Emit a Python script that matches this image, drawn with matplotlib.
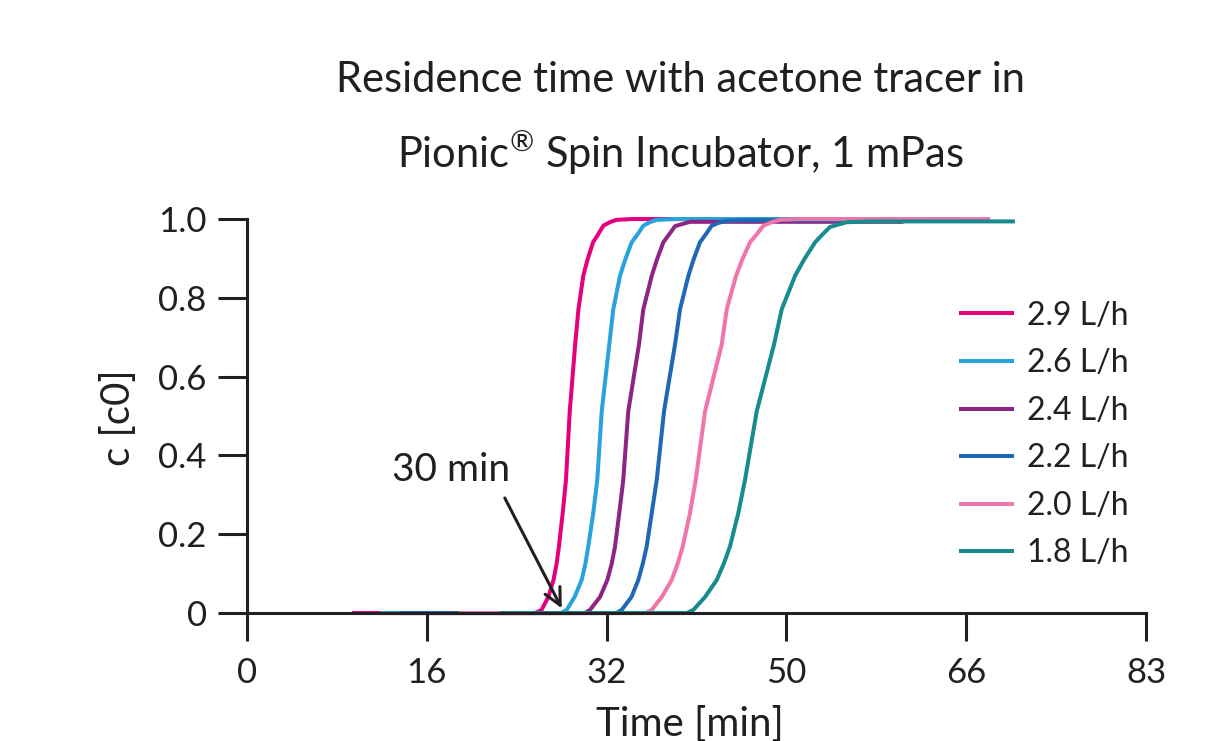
import matplotlib.pyplot as plt
import numpy as np

plt.rcParams['font.family'] = ['Lato', 'DejaVu Sans']
plt.rcParams['mathtext.default'] = 'regular'

#-------Dados-------#

flow_labels = ['2.9 L/h', '2.6 L/h', '2.4 L/h', '2.2 L/h', '2.0 L/h', '1.8 L/h']
colors = ['#E6007E', '#29A3DC', '#8E2585', '#1F69B4', '#F075AA', '#178B8E']

t_29 = [9.7, 26.6, 27.2, 27.82, 28.3, 28.59, 28.8, 29.15, 29.45, 29.8, 30.3, 30.6, 31.05, 31.45,
        31.95, 32.44, 32.9, 33.5, 34.1, 35.6, 66.1]
c_29 = [0, 0, 0.008, 0.041, 0.084, 0.126, 0.169, 0.254, 0.338, 0.512, 0.682, 0.771, 0.856, 0.898,
        0.941, 0.962, 0.983, 0.992, 0.998, 1.0, 1.0]

t_26 = [12.3, 29.0, 29.52, 30.25, 30.9, 31.25, 31.51, 31.97, 32.34, 32.75, 33.45, 33.82, 34.44, 34.93,
        35.52, 36.08, 36.59, 37.2, 37.83, 39.5, 63.0]
c_26 = [0, 0, 0.008, 0.041, 0.084, 0.126, 0.169, 0.254, 0.338, 0.512, 0.682, 0.771, 0.856, 0.898,
        0.941, 0.962, 0.983, 0.992, 0.998, 1.0, 1.0]

t_24 = [14.1, 31.2, 31.67, 32.6, 33.27, 33.68, 33.98, 34.37, 34.74, 35.2, 36.19, 36.59, 37.37, 37.86,
        38.44, 39.0, 39.52, 40.9, 60.6]
c_24 = [0, 0, 0.008, 0.041, 0.084, 0.126, 0.169, 0.254, 0.338, 0.512, 0.682, 0.771, 0.856, 0.898,
        0.941, 0.962, 0.982, 0.993, 0.993]

t_22 = [14.1, 34.1, 34.6, 35.5, 36.13, 36.55, 36.9, 37.37, 37.83, 38.5, 39.52, 39.98, 40.75, 41.24,
        41.82, 42.38, 42.9, 43.5, 44.13, 45.8, 63.0]
c_22 = [0, 0, 0.008, 0.041, 0.084, 0.126, 0.169, 0.254, 0.338, 0.512, 0.682, 0.771, 0.856, 0.898,
        0.941, 0.962, 0.983, 0.99, 0.995, 0.997, 0.997]

t_20 = [19.6, 36.8, 37.37, 38.3, 39.21, 39.77, 40.23, 40.9, 41.43, 42.29, 43.83, 44.29, 45.15, 45.74,
        46.44, 47.08, 47.67, 48.44, 49.21, 51.0, 68.6]
c_20 = [0, 0, 0.008, 0.041, 0.084, 0.126, 0.169, 0.254, 0.338, 0.512, 0.682, 0.771, 0.856, 0.898,
        0.941, 0.962, 0.983, 0.992, 0.998, 1.0, 1.0]

t_18 = [23.3, 40.6, 41.21, 42.3, 43.37, 44.03, 44.59, 45.36, 45.98, 47.06, 48.66, 49.37, 50.6, 51.45,
        52.45, 53.17, 53.83, 55.37, 57.5, 70.9]
c_18 = [0, 0, 0.008, 0.041, 0.084, 0.126, 0.169, 0.254, 0.338, 0.512, 0.682, 0.771, 0.856, 0.898,
        0.941, 0.962, 0.98, 0.992, 0.994, 0.994]

x_ticklabels = ['0', '16', '32', '50', '66', '83']
y_ticks = [0, 0.2, 0.4, 0.6, 0.8, 1.0]
y_ticklabels = ['0', '0.2', '0.4', '0.6', '0.8', '1.0']

#----------Gráfico----------#

ink = '#231F20'

fig = plt.figure(figsize=(12.07, 7.41), dpi=100)
ax = fig.add_axes([0.2046, 0.1727, 0.7449, 0.5317])

series = [(t_29, c_29), (t_26, c_26), (t_24, c_24), (t_22, c_22), (t_20, c_20), (t_18, c_18)]
for (t, c), lab, col in zip(series, flow_labels, colors):
    ax.plot(t, c, color=col, lw=2.9, label=lab, clip_on=False,
            solid_capstyle='butt', solid_joinstyle='round')

ax.set_xlim(0, 83)
ax.set_ylim(0, 1)
ax.set_xticks(np.linspace(0, 83, 6))
ax.set_xticklabels(x_ticklabels)
ax.set_yticks(y_ticks)
ax.set_yticklabels(y_ticklabels)

for side in ['top', 'right']:
    ax.spines[side].set_visible(False)
for side in ['left', 'bottom']:
    ax.spines[side].set_linewidth(2.2)
    ax.spines[side].set_color(ink)

ax.tick_params(axis='x', direction='out', length=20, width=2.2, color=ink,
               labelsize=25, labelcolor=ink, pad=12)
ax.tick_params(axis='y', direction='out', length=21, width=2.2, color=ink,
               labelsize=25, labelcolor=ink, pad=8)

ax.set_xlabel('Time [min]', fontsize=29, color=ink)
ax.set_ylabel('c [c0]', fontsize=29, color=ink)
ax.xaxis.set_label_coords(0.493, -0.236)
ax.yaxis.set_label_coords(-0.122, 0.497)

fig.text(0.564, 0.892, 'Residence time with acetone tracer in', fontsize=30,
         color=ink, ha='center', va='center')
fig.text(0.564, 0.794, 'Pionic$^{\u00ae}$ Spin Incubator, 1 mPas', fontsize=30,
         color=ink, ha='center', va='center')

ax.annotate('', xy=(29.06, 0.012), xytext=(23.8, 0.292),
            arrowprops=dict(arrowstyle='->,head_length=0.6,head_width=0.3',
                            lw=2.2, color=ink, mutation_scale=20,
                            shrinkA=0, shrinkB=0))
ax.text(18.8, 0.364, '30 min', fontsize=28, color=ink, ha='center', va='center')

ax.legend(loc='upper left', bbox_to_anchor=(0.760, 0.866), frameon=False,
          fontsize=23, handlelength=1.72, handletextpad=0.4, labelspacing=0.55,
          labelcolor=ink)

fig.savefig('out.png', dpi=100)
